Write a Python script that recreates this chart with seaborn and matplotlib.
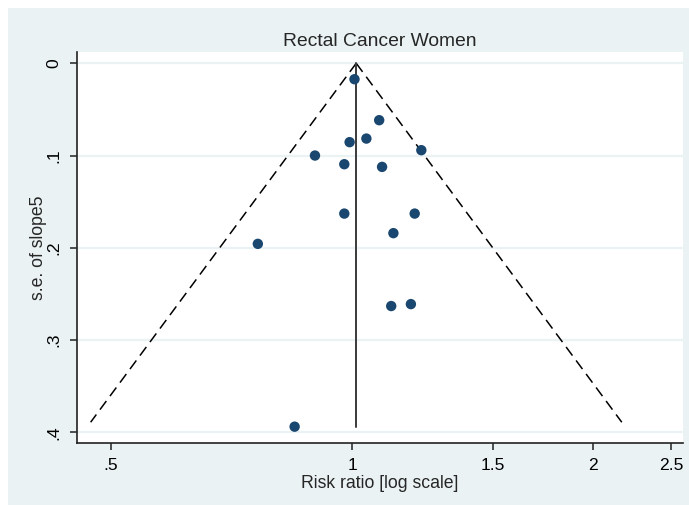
import numpy as np
import pandas as pd
import matplotlib
matplotlib.use("Agg")
import matplotlib.pyplot as plt
from matplotlib.ticker import FixedLocator, FixedFormatter, NullLocator
import seaborn as sns

# Study-level estimates: risk ratio and its standard error (log scale)
risk_ratio = [1.007, 1.081, 1.042, 0.993, 1.220, 0.899, 0.978, 1.090,
              0.978, 1.197, 1.126, 0.763, 1.119, 1.184, 0.848]
std_err = [0.0173, 0.0617, 0.0816, 0.0855, 0.0942, 0.1000, 0.1094, 0.1123,
           0.1629, 0.1629, 0.1841, 0.1957, 0.2631, 0.2610, 0.3938]

pooled_rr = 1.012          # fixed-effect pooled estimate
funnel_se_max = 0.389      # extent of pseudo 95% limits
line_se_max = 0.3946       # extent of pooled-estimate line

x_ticks = [0.5, 1, 1.5, 2, 2.5]
x_tick_labels = [".5", "1", "1.5", "2", "2.5"]
y_ticks = [0, 0.1, 0.2, 0.3, 0.4]
y_tick_labels = ["0", ".1", ".2", ".3", ".4"]

df = pd.DataFrame({"rr": risk_ratio, "se": std_err})

sns.set_theme(style="white")
plt.rcParams["font.family"] = ["Liberation Sans", "DejaVu Sans"]

W, H = 689, 505
fig = plt.figure(figsize=(W / 100, H / 100), dpi=100)
fig.patch.set_facecolor("white")

# Light graph region behind the plot
bg_ax = fig.add_axes([8 / W, 0, (W - 8) / W, (H - 8) / H], zorder=0)
bg_ax.set_facecolor("#EAF2F3")
bg_ax.set_xticks([])
bg_ax.set_yticks([])
for s in bg_ax.spines.values():
    s.set_visible(False)

ax = fig.add_axes([77 / W, (H - 443) / H, (683 - 77) / W, (443 - 52) / H], zorder=1)
ax.set_facecolor("white")

# Pseudo 95% confidence limits
se_grid = np.array([0.0, funnel_se_max])
log_p = np.log(pooled_rr)
ax.plot(np.exp(log_p - 1.96 * se_grid), se_grid, color="black", lw=1.1,
        ls=(0, (7, 4)), zorder=2)
ax.plot(np.exp(log_p + 1.96 * se_grid), se_grid, color="black", lw=1.1,
        ls=(0, (7, 4)), zorder=2)
# Pooled estimate
ax.plot([pooled_rr, pooled_rr], [0, line_se_max], color="#3a3a3a", lw=1.4, zorder=2)

sns.scatterplot(data=df, x="rr", y="se", ax=ax, color="#1a476f", s=56,
                edgecolor="none", zorder=3, legend=False)

ax.set_xscale("log")
ax.set_xlim(0.454, 2.586)
ax.set_ylim(0.4115, -0.0122)

ax.xaxis.set_major_locator(FixedLocator(x_ticks))
ax.xaxis.set_major_formatter(FixedFormatter(x_tick_labels))
ax.xaxis.set_minor_locator(NullLocator())
ax.yaxis.set_major_locator(FixedLocator(y_ticks))
ax.yaxis.set_major_formatter(FixedFormatter(y_tick_labels))

for y in y_ticks:
    ax.axhline(y, color="#EAF2F3", lw=1.6, zorder=1)

for s in ["top", "right"]:
    ax.spines[s].set_visible(False)
for s in ["left", "bottom"]:
    ax.spines[s].set_color("#222222")
    ax.spines[s].set_linewidth(1.2)

ax.tick_params(axis="both", which="major", length=5, width=1.1,
               color="#222222", labelsize=12.6, labelcolor="black",
               direction="out")
ax.tick_params(axis="x", pad=6, bottom=True)
ax.tick_params(axis="y", pad=6, left=True)
for lbl in ax.get_yticklabels():
    lbl.set_rotation(90)
    lbl.set_va("center")

ax.set_xlabel("Risk ratio [log scale]", fontsize=12.7, labelpad=1)
ax.set_ylabel("s.e. of slope5", fontsize=12.7, labelpad=0)
ax.set_title("Rectal Cancer Women", fontsize=13.9, pad=4)

fig.savefig("out.png", dpi=100, facecolor="white")
